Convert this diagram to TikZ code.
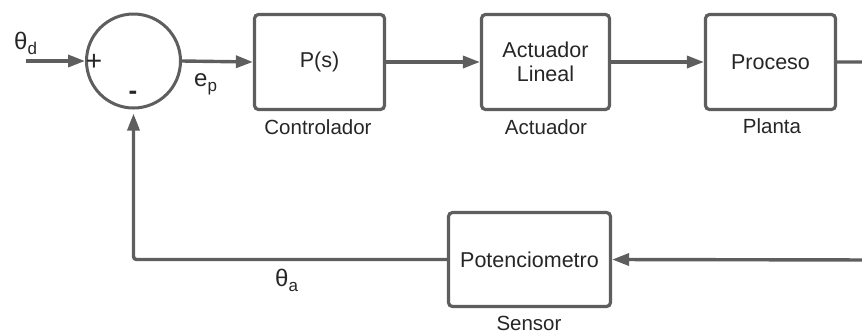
\documentclass[tikz,border=0pt]{standalone}
\usepackage{fontspec}
\setmainfont{Liberation Sans}
\usetikzlibrary{arrows.meta}

\definecolor{linegray}{HTML}{5E5E5E}
\definecolor{textgray}{HTML}{262626}

% lowered, smaller subscript for signal names
\newcommand\sigsub[1]{\raisebox{-5pt}{\fontsize{17}{17}\selectfont #1}}

\tikzset{
  blockbox/.style={draw=linegray, line width=3.2pt, rounded corners=4pt,
    fill=white, minimum height=95pt, text=textgray, align=center,
    font=\fontsize{21.5}{24}\selectfont},
  sumnode/.style={draw=linegray, line width=3pt, circle, minimum size=94pt,
    inner sep=0pt},
  sublabel/.style={text=textgray, inner sep=0pt, font=\fontsize{20.5}{24}\selectfont},
  signal/.style={text=textgray, inner sep=0pt, font=\fontsize{24}{26}\selectfont},
  conn/.style={draw=linegray, line width=3.4pt, rounded corners=3pt},
  arr/.style={conn, -{Triangle[length=17pt,width=12pt]}},
}

\begin{document}
\begin{tikzpicture}[x=1pt, y=-1pt]
  \useasboundingbox (0,0) rectangle (862,333);
  \clip (0,0) rectangle (862,333);

  % summing junction
  \node[sumnode] (sum) at (133.5,61) {};
  \node[signal, font=\fontsize{28}{28}\selectfont] (plus) at (94,62) {+};
  \node[signal, font=\fontsize{26}{26}\selectfont\bfseries] (minus) at (133,95) {-};

  % forward path blocks
  \node[blockbox, minimum width=130pt] (ctrl) at (319.5,62) {P(s)};
  \node[blockbox, minimum width=128pt] (act)  at (545.5,62) {Actuador\\Lineal};
  \node[blockbox, minimum width=130pt] (proc) at (770.5,62) {Proceso};

  % feedback block
  \node[blockbox, minimum width=162pt, minimum height=94pt] (sens) at (529.5,259.5) {Potenciometro};

  % block captions
  \node[sublabel, anchor=base] (ctrlcap) at (318,134) {Controlador};
  \node[sublabel, anchor=base] (actcap)  at (546,134) {Actuador};
  \node[sublabel, anchor=base] (proccap) at (772,133) {Planta};
  \node[sublabel, anchor=base] (senscap) at (529,330) {Sensor};

  % signal names
  \node[signal, anchor=base west] (thd) at (14,49) {θ\sigsub{d}};
  \node[signal, anchor=base west] (ep)  at (194,86) {e\sigsub{p}};
  \node[signal, anchor=base west] (tha) at (275,286) {θ\sigsub{a}};

  % free ends of the connectors
  \coordinate (in) at (26,61);
  \coordinate (outr) at (880,62);
  \coordinate (backr) at (880,260);

  % forward connectors
  \draw[arr] (in) -- (sum.west);
  \draw[arr] (sum.east) -- (ctrl.west);
  \draw[arr] (ctrl.east) -- (act.west);
  \draw[arr] (act.east) -- (proc.west);

  % feedback loop
  \draw[conn] (proc.east) -- (outr) -- (backr);
  \draw[arr] (backr) -- (sens.east);
  \draw[arr, shorten >=4pt] (sens.west) -| (sum.south);
\end{tikzpicture}
\end{document}
